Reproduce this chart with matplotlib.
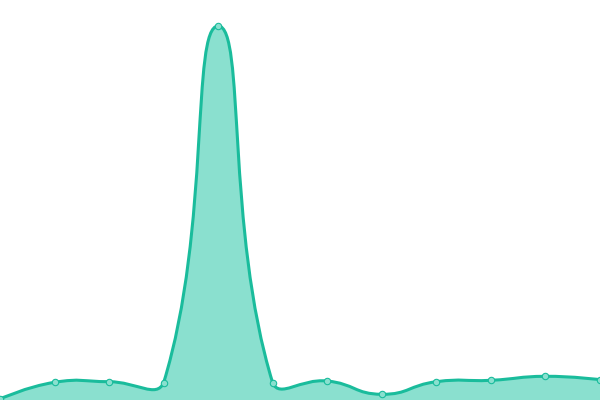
import numpy as np
import matplotlib
matplotlib.use("Agg")
import matplotlib.pyplot as plt
from matplotlib.path import Path
from matplotlib.patches import PathPatch

# values (0..400 scale)
idx = list(range(12))
values = [1.0, 17.7, 18.3, 17.3, 374, 17, 19, 5.7, 18.3, 19.7, 23.7, 20.3]

LINE = "#1abc9c"
FILL = "#8ae0cf"


def smooth_bezier(pts, smooth=0.5):
    # echarts-style control points, computed in display space,
    # kept inside the bounding box of the points
    n = len(pts)
    cps = []
    lo = pts.min(axis=0)
    hi = pts.max(axis=0)
    for i in range(n):
        p = pts[i]
        if i == 0 or i == n - 1:
            cps.append((p.copy(), p.copy()))
            continue
        prev, nxt = pts[i - 1], pts[i + 1]
        v = (nxt - prev) * smooth
        d0 = np.hypot(*(p - prev))
        d1 = np.hypot(*(nxt - p))
        s = d0 + d1
        d0, d1 = d0 / s, d1 / s
        c0 = np.clip(p - v * d0, lo, hi)
        c1 = np.clip(p + v * d1, lo, hi)
        cps.append((c0, c1))
    verts = [pts[0]]
    codes = [Path.MOVETO]
    for i in range(n - 1):
        verts += [cps[i][1], cps[i + 1][0], pts[i + 1]]
        codes += [Path.CURVE4] * 3
    return np.array(verts), codes


fig = plt.figure(figsize=(6, 4), dpi=100)
ax = fig.add_axes([0, 0, 1, 1])
ax.set_xlim(0, 11)
ax.set_ylim(0, 400)
ax.axis("off")

disp = ax.transData.transform(np.column_stack([idx, values]))
verts_d, codes = smooth_bezier(disp)
verts = ax.transData.inverted().transform(verts_d)

# area under the curve
fill_verts = np.vstack([verts, [[idx[-1], 0], [idx[0], 0], verts[0]]])
fill_codes = codes + [Path.LINETO, Path.LINETO, Path.CLOSEPOLY]
ax.add_patch(PathPatch(Path(fill_verts, fill_codes), facecolor=FILL, edgecolor="none"))

ax.add_patch(PathPatch(Path(verts, codes), facecolor="none", edgecolor=LINE, linewidth=2.2))

ax.plot(idx, values, "o", markersize=4.6, markerfacecolor=FILL,
        markeredgecolor=LINE, markeredgewidth=0.8, clip_on=True)

fig.savefig("out.png", dpi=100)
